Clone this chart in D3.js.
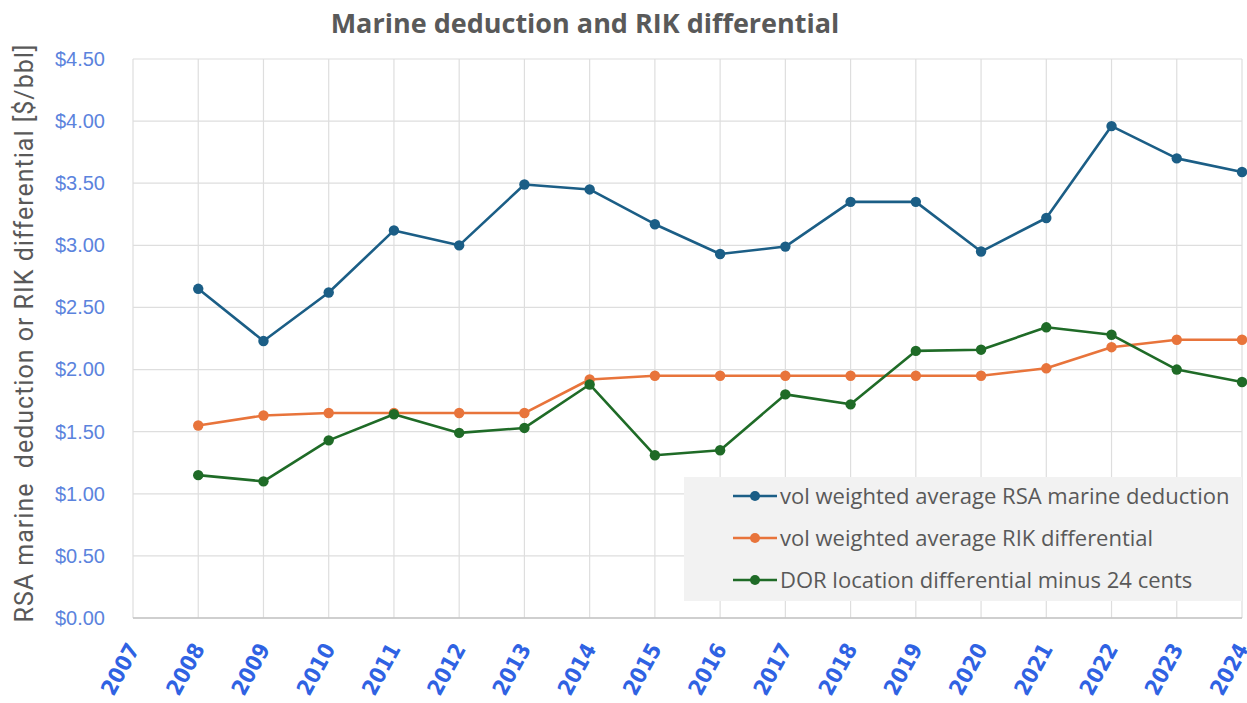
<!DOCTYPE html>
<html>
<head>
    <meta charset="utf-8">
    <title>Marine deduction and RIK differential</title>
    <style>
        body { margin: 0; background: #fff; }
        .grid line { stroke: #dedede; stroke-width: 1.2px; }
        .series path { fill: none; stroke-width: 2.6px; stroke-linejoin: round; }
    </style>
</head>
<body>
    <script src="https://cdn.jsdelivr.net/npm/d3@7/dist/d3.min.js"></script>
    <script>
        // data
        var years = [2007, 2008, 2009, 2010, 2011, 2012, 2013, 2014, 2015, 2016, 2017, 2018, 2019, 2020, 2021, 2022, 2023, 2024];
        var dataYears = [2008, 2009, 2010, 2011, 2012, 2013, 2014, 2015, 2016, 2017, 2018, 2019, 2020, 2021, 2022, 2023, 2024];
        var rsaMarine = [2.65, 2.23, 2.62, 3.12, 3.00, 3.49, 3.45, 3.17, 2.93, 2.99, 3.35, 3.35, 2.95, 3.22, 3.96, 3.70, 3.59];
        var rikDiff = [1.55, 1.63, 1.65, 1.65, 1.65, 1.65, 1.92, 1.95, 1.95, 1.95, 1.95, 1.95, 1.95, 2.01, 2.18, 2.24, 2.24];
        var dorDiff = [1.15, 1.10, 1.43, 1.64, 1.49, 1.53, 1.88, 1.31, 1.35, 1.80, 1.72, 2.15, 2.16, 2.34, 2.28, 2.00, 1.90];
        var yTicks = [0, 0.5, 1, 1.5, 2, 2.5, 3, 3.5, 4, 4.5];
        var seriesNames = ["vol weighted average RSA marine deduction", "vol weighted average RIK differential", "DOR location differential minus 24 cents"];
        var seriesColors = ["#1b5e86", "#e8743b", "#1f6b27"];

        var width = 1247, height = 703;
        var margin = { left: 133, right: 5, top: 59, bottom: 85 };

        var svg = d3.select("body").append("svg")
            .attr("width", width)
            .attr("height", height);

        var x = d3.scaleLinear()
            .domain([2007, 2024])
            .range([margin.left, width - margin.right]);
        var y = d3.scaleLinear()
            .domain([0, 4.5])
            .range([height - margin.bottom, margin.top]);

        // gridlines
        var grid = svg.append("g").attr("class", "grid");
        grid.selectAll("line.h")
            .data(yTicks)
            .enter().append("line")
            .attr("class", "h")
            .attr("x1", x(2007)).attr("x2", x(2024))
            .attr("y1", function(d) { return y(d); })
            .attr("y2", function(d) { return y(d); });
        grid.selectAll("line.v")
            .data(years)
            .enter().append("line")
            .attr("class", "v")
            .attr("x1", function(d) { return x(d); })
            .attr("x2", function(d) { return x(d); })
            .attr("y1", y(4.5)).attr("y2", y(0));

        // bottom axis line
        svg.append("line")
            .attr("x1", x(2007)).attr("x2", x(2024))
            .attr("y1", y(0)).attr("y2", y(0))
            .attr("stroke", "#c4c4c4").attr("stroke-width", 1.5);

        // y tick labels
        var yAxis = svg.append("g")
            .attr("transform", "translate(" + (margin.left - 25) + ",0)")
            .call(d3.axisLeft(y).tickValues(yTicks).tickSize(0).tickFormat(d3.format("$.2f")));
        yAxis.select(".domain").remove();
        yAxis.selectAll("text")
            .attr("fill", "#5b83dd")
            .style("font", "20px 'Liberation Sans', Arial, sans-serif");

        // x tick labels, rotated
        var xAxis = svg.append("g")
            .attr("transform", "translate(0," + (y(0) + 27) + ")")
            .call(d3.axisBottom(x).tickValues(years).tickSize(0).tickFormat(d3.format("d")));
        xAxis.select(".domain").remove();
        xAxis.selectAll("text")
            .attr("fill", "#2f62e3")
            .attr("text-anchor", "end")
            .attr("dy", "0.35em")
            .attr("x", 0)
            .attr("y", 0)
            .attr("transform", "rotate(-61)")
            .style("font", "bold 22px 'DejaVu Sans Condensed', 'DejaVu Sans', sans-serif");

        // title
        svg.append("text")
            .attr("x", 585)
            .attr("y", 33)
            .attr("text-anchor", "middle")
            .attr("fill", "#595959")
            .style("font", "bold 27px 'Open Sans', Lato, sans-serif")
            .text("Marine deduction and RIK differential");

        // y axis title
        svg.append("text")
            .attr("transform", "translate(33,333) rotate(-90)")
            .attr("text-anchor", "middle")
            .attr("fill", "#595959")
            .attr("xml:space", "preserve")
            .style("white-space", "pre")
            .style("letter-spacing", "1px")
            .style("font", "25px Roboto, 'Liberation Sans', sans-serif")
            .text("RSA marine  deduction or RIK differential [$/bbl]");

        // series
        var allSeries = [rsaMarine, rikDiff, dorDiff];
        var line = d3.line()
            .x(function(d, i) { return x(dataYears[i]); })
            .y(function(d) { return y(d); });

        var series = svg.selectAll("g.series")
            .data(allSeries)
            .enter().append("g")
            .attr("class", "series");
        series.append("path")
            .attr("stroke", function(d, i) { return seriesColors[i]; })
            .attr("d", line);
        series.each(function(vals, si) {
            d3.select(this).selectAll("circle")
                .data(vals)
                .enter().append("circle")
                .attr("cx", function(d, i) { return x(dataYears[i]); })
                .attr("cy", function(d) { return y(d); })
                .attr("r", 5.2)
                .attr("fill", seriesColors[si]);
        });

        // legend
        var legend = svg.append("g").attr("transform", "translate(684,477)");
        legend.append("rect")
            .attr("width", 558)
            .attr("height", 124)
            .attr("fill", "#f2f2f2");
        var item = legend.selectAll("g.item")
            .data(seriesNames)
            .enter().append("g")
            .attr("class", "item")
            .attr("transform", function(d, i) { return "translate(0," + (19 + i * 42) + ")"; });
        item.append("line")
            .attr("x1", 49).attr("x2", 93)
            .attr("stroke", function(d, i) { return seriesColors[i]; })
            .attr("stroke-width", 2.6);
        item.append("circle")
            .attr("cx", 71)
            .attr("r", 5)
            .attr("fill", function(d, i) { return seriesColors[i]; });
        item.append("text")
            .attr("x", 96)
            .attr("dy", "0.35em")
            .attr("fill", "#595959")
            .style("font", "22px 'Open Sans', sans-serif")
            .text(function(d) { return d; });
    </script>
</body>
</html>
